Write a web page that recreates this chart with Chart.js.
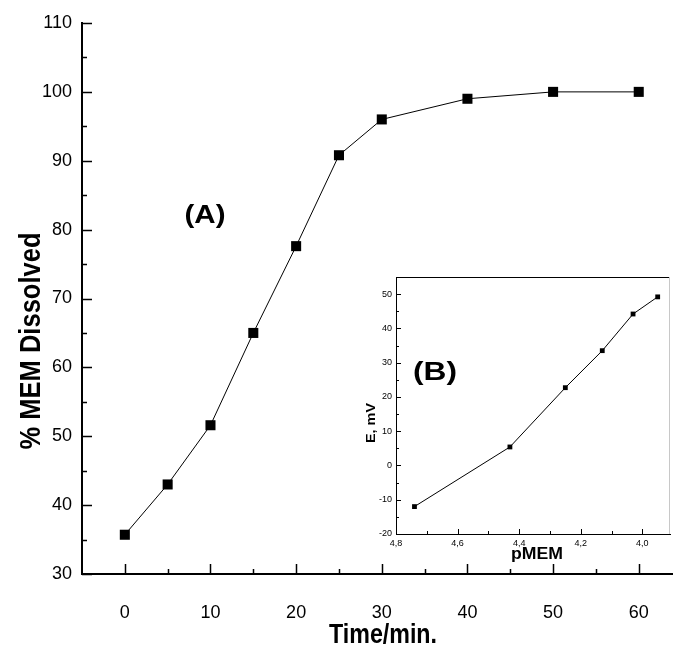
<!DOCTYPE html>
<html>
<head>
<meta charset="utf-8">
<script src="https://cdn.jsdelivr.net/npm/chart.js@4/dist/chart.umd.min.js"></script>
<style>
  html, body { margin: 0; padding: 0; background: #fff; }
  #wrap { position: relative; width: 673px; height: 648px; overflow: hidden; }
  #main { position: absolute; left: 0; top: 0; }
  #inset { position: absolute; left: 340px; top: 262px; }
</style>
</head>
<body>
<div id="wrap">
  <canvas id="main" width="673" height="648"></canvas>
  <canvas id="inset" width="333" height="313"></canvas>
</div>
<script>
// Dissolution profile (A)
const timeMin = [0, 5, 10, 15, 20, 25, 30, 40, 50, 60];
const dissolvedPct = [35.7, 43, 51.6, 65, 77.6, 90.8, 96, 99, 100, 100];
const timeTicks = [0, 10, 20, 30, 40, 50, 60];
const pctTicks = [30, 40, 50, 60, 70, 80, 90, 100, 110];

// Electrode calibration (B)
const pMEM = [4.74, 4.43, 4.25, 4.13, 4.03, 3.95];
const potentialMV = [-12, 5.4, 22.7, 33.5, 44.2, 49.2];
const pMEMTicks = [4.8, 4.6, 4.4, 4.2, 4.0];
const mvTicks = [-20, -10, 0, 10, 20, 30, 40, 50];

const FONT = "'Liberation Sans', Arial, Helvetica, sans-serif";

// Draw text squeezed/stretched to a given width
function fitText(ctx, text, cx, cy, width, font, angle) {
  ctx.save();
  ctx.font = font;
  ctx.fillStyle = '#000';
  ctx.textAlign = 'center';
  ctx.textBaseline = 'middle';
  const w = ctx.measureText(text).width;
  ctx.translate(cx, cy);
  if (angle) ctx.rotate(angle);
  ctx.scale(width / w, 1);
  ctx.fillText(text, 0, 0);
  ctx.restore();
}

// Inward major + minor tick marks
const inwardTicks = {
  id: 'inwardTicks',
  afterDraw(chart, args, o) {
    const ctx = chart.ctx;
    const xs = chart.scales.x, ys = chart.scales.y;
    const a = chart.chartArea;
    ctx.save();
    ctx.strokeStyle = '#000';
    ctx.lineWidth = o.width;
    ctx.beginPath();
    const inX = v => Math.min(xs.min, xs.max) - 1e-9 <= v && v <= Math.max(xs.min, xs.max) + 1e-9;
    const inY = v => ys.min - 1e-9 <= v && v <= ys.max + 1e-9;
    o.xMajor.forEach(v => {
      const p = Math.round(xs.getPixelForValue(v)) + 0.5;
      ctx.moveTo(p, a.bottom); ctx.lineTo(p, a.bottom - o.major);
      const m = v + o.xStep / 2;
      if (!inX(m)) return;
      const q = Math.round(xs.getPixelForValue(m)) + 0.5;
      ctx.moveTo(q, a.bottom); ctx.lineTo(q, a.bottom - o.minor);
    });
    o.yMajor.forEach(v => {
      const p = Math.round(ys.getPixelForValue(v)) + 0.5;
      ctx.moveTo(a.left, p); ctx.lineTo(a.left + o.major, p);
      const m = v + o.yStep / 2;
      if (!inY(m)) return;
      const q = Math.round(ys.getPixelForValue(m)) + 0.5;
      ctx.moveTo(a.left, q); ctx.lineTo(a.left + o.minor, q);
    });
    ctx.stroke();
    if (o.frame) {
      ctx.lineWidth = 1;
      ctx.beginPath();
      ctx.moveTo(a.left, a.top + 0.5); ctx.lineTo(a.right, a.top + 0.5);
      ctx.stroke();
      ctx.strokeStyle = '#c8c8c8';
      ctx.beginPath();
      ctx.moveTo(a.right - 0.5, a.top); ctx.lineTo(a.right - 0.5, a.bottom);
      ctx.stroke();
    }
    ctx.restore();
  }
};

// Axis titles and panel letters
const labels = {
  id: 'labels',
  afterDraw(chart, args, o) {
    o.items.forEach(t => fitText(chart.ctx, t.text, t.x, t.y, t.w, t.font, t.angle || 0));
  }
};

function fixedAxis(size, horizontal) {
  return scale => {
    if (horizontal) scale.height = size; else scale.width = size;
    scale.paddingLeft = 0; scale.paddingRight = 0;
    scale.paddingTop = 0; scale.paddingBottom = 0;
  };
}

new Chart(document.getElementById('main'), {
  type: 'line',
  data: {
    datasets: [{
      data: timeMin.map((t, i) => ({ x: t, y: dissolvedPct[i] })),
      borderColor: '#000',
      borderWidth: 1,
      backgroundColor: '#000',
      pointStyle: 'rect',
      pointRadius: 7.1,
      pointBorderWidth: 0,
      tension: 0,
      clip: false
    }]
  },
  options: {
    responsive: false,
    animation: false,
    devicePixelRatio: 1,
    layout: { autoPadding: false, padding: { top: 23, right: 0, left: 0, bottom: 0 } },
    plugins: {
      legend: { display: false },
      tooltip: { enabled: false },
      inwardTicks: { width: 1.5, major: 10, minor: 5, xMajor: timeTicks, xStep: 10, yMajor: pctTicks, yStep: 10 },
      labels: {
        items: [
          { text: '% MEM Dissolved', x: 32, y: 341, w: 217, font: 'bold 30px ' + FONT, angle: -Math.PI / 2 },
          { text: 'Time/min.', x: 383, y: 636, w: 108, font: 'bold 27px ' + FONT },
          { text: '(A)', x: 205, y: 216, w: 41, font: 'bold 26px ' + FONT }
        ]
      }
    },
    scales: {
      x: {
        type: 'linear',
        min: -5, max: 64,
        afterBuildTicks: s => { s.ticks = timeTicks.map(v => ({ value: v })); },
        afterFit: fixedAxis(74, true),
        grid: { display: false, drawTicks: false },
        border: { display: true, color: '#000', width: 2 },
        ticks: { color: '#000', font: { family: FONT, size: 18 }, padding: 28, maxRotation: 0 }
      },
      y: {
        type: 'linear',
        min: 30, max: 110,
        afterBuildTicks: s => { s.ticks = pctTicks.map(v => ({ value: v })); },
        afterFit: fixedAxis(82, false),
        grid: { display: false, drawTicks: false },
        border: { display: true, color: '#000', width: 2 },
        ticks: { color: '#000', font: { family: FONT, size: 18 }, padding: 10 }
      }
    }
  },
  plugins: [inwardTicks, labels]
});

new Chart(document.getElementById('inset'), {
  type: 'line',
  data: {
    datasets: [{
      data: pMEM.map((p, i) => ({ x: p, y: potentialMV[i] })),
      borderColor: '#000',
      borderWidth: 1,
      backgroundColor: '#000',
      pointStyle: 'rect',
      pointRadius: 3.4,
      pointBorderWidth: 0,
      tension: 0,
      clip: false
    }]
  },
  options: {
    responsive: false,
    animation: false,
    devicePixelRatio: 1,
    layout: { autoPadding: false, padding: { top: 15, right: 3, left: 0, bottom: 0 } },
    plugins: {
      legend: { display: false },
      tooltip: { enabled: false },
      inwardTicks: { width: 1, major: 5, minor: 3, xMajor: pMEMTicks, xStep: -0.2, yMajor: mvTicks, yStep: 10, frame: true },
      labels: {
        items: [
          { text: 'E, mV', x: 31, y: 161, w: 40, font: 'bold 13px ' + FONT, angle: -Math.PI / 2 },
          { text: 'pMEM', x: 197, y: 293, w: 52, font: 'bold 16px ' + FONT },
          { text: '(B)', x: 95, y: 111, w: 44, font: 'bold 25px ' + FONT }
        ]
      }
    },
    scales: {
      x: {
        type: 'linear',
        reverse: true,
        min: 3.91, max: 4.8,
        afterBuildTicks: s => { s.ticks = pMEMTicks.map(v => ({ value: v })); },
        afterFit: fixedAxis(41, true),
        grid: { display: false, drawTicks: false },
        border: { display: true, color: '#000', width: 1 },
        ticks: {
          color: '#000', font: { family: FONT, size: 9 }, padding: 4, maxRotation: 0,
          callback: v => Number(v).toFixed(1).replace('.', ',')
        }
      },
      y: {
        type: 'linear',
        min: -20, max: 55,
        afterBuildTicks: s => { s.ticks = mvTicks.map(v => ({ value: v })); },
        afterFit: fixedAxis(56, false),
        grid: { display: false, drawTicks: false },
        border: { display: true, color: '#000', width: 1 },
        ticks: { color: '#000', font: { family: FONT, size: 9 }, padding: 4 }
      }
    }
  },
  plugins: [inwardTicks, labels]
});
</script>
</body>
</html>
